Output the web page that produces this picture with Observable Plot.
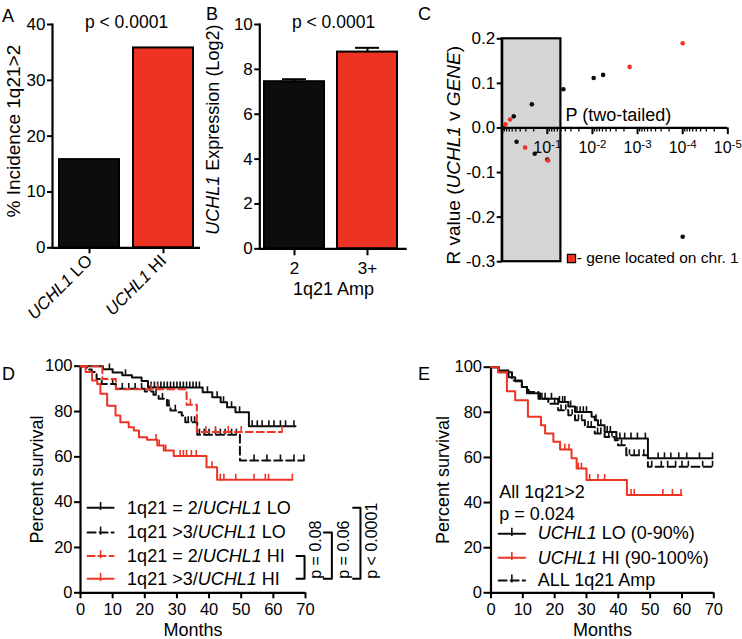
<!DOCTYPE html>
<html><head><meta charset="utf-8">
<script src="https://cdn.jsdelivr.net/npm/d3@7"></script>
<script src="https://cdn.jsdelivr.net/npm/@observablehq/plot@0.6"></script>
<style>
body{margin:0;background:#fff;}
#fig{position:relative;width:742px;height:639px;overflow:hidden;background:#fff;font-family:"Liberation Sans",Arial,Helvetica,sans-serif;}
.letter{position:absolute;font-size:18px;line-height:18px;color:#000;}
</style></head><body><div id="fig"></div>
<script>
const FONT = '"Liberation Sans", Arial, Helvetica, sans-serif';
const RED = "#ec3324";
const BLACK = "#0d0d0d";

// ---------- Panel A ----------
const groupsA = ["UCHL1 LO", "UCHL1 HI"];
const incidenceA = [15.8, 35.8];
const ticksA = [0, 10, 20, 30, 40];

// ---------- Panel B ----------
const ampB = ["2", "3+"];
const exprMeanB = [7.45, 8.77];
const exprSemB = [0.11, 0.19];
const ticksB = [0, 2, 4, 6, 8, 10];

// ---------- Panel C ----------
const pBlackC = [0.94, 0.555, 0.48, 0.22, 0.19, 0.1, 0.044, 0.0094, 0.0058, 0.0001];
const rBlackC = [0.0, 0.026, -0.031, 0.053, -0.058, -0.071, 0.087, 0.112, 0.119, -0.244];
const pRedC = [0.85, 0.67, 0.31, 0.096, 0.0015, 0.0001];
const rRedC = [0.008, 0.019, -0.044, -0.073, 0.137, 0.19];
const sigBoxC = [1, 0.05];
const yTicksC = [-0.3, -0.2, -0.1, 0, 0.1, 0.2];
const majorTicksC = [1, 0.1, 0.01, 0.001, 0.0001, 0.00001];
const majorLabelsC = ["", "10^-1", "10^-2", "10^-3", "10^-4", "10^-5"];

// ---------- Panel D ----------
const monthTicks = [0, 10, 20, 30, 40, 50, 60, 70];
const survTicks = [0, 20, 40, 60, 80, 100];
const d1Time = [0, 7, 10, 13, 16, 19, 21, 38, 41, 43.6, 45.6, 48.2, 52.4, 66.9];
const d1Surv = [100, 98.6, 97.2, 96, 95, 93.5, 90.6, 88.5, 86.3, 84.1, 81.9, 79.7, 73.5, 73.5];
const d1Cens = [9, 14, 22, 23, 24, 25, 26, 27, 28, 29, 30, 31, 32, 33, 34, 35, 36, 37, 39.5, 42.5, 44.5, 47, 49.5, 53.4, 55, 56.5, 58.6, 60.2, 62.2, 63.8, 66.4];
const d2Time = [0, 2, 3.5, 5, 6.6, 11, 20, 22.7, 24.3, 26.9, 28, 30.5, 31.5, 32.6, 36.3, 49.6, 69.5];
const d2Surv = [100, 98.5, 97.4, 94.4, 92.2, 90, 88.8, 87.4, 85.6, 82.7, 80.4, 79.7, 78.2, 75.3, 69.8, 58.4, 58.4];
const d2Cens = [10, 13, 15, 17, 19, 21.5, 23.5, 25.5, 27.5, 29.5, 33.5, 34.5, 35.5, 37, 38.5, 40, 42, 43.5, 45, 47, 48.5, 54, 58, 62.2, 66.4, 69.5];
const d3Time = [0, 6.8, 11, 33, 36.2, 62.7];
const d3Surv = [100, 94.3, 89.8, 83, 71, 71];
const d3Cens = [22, 24, 34.2, 39, 42, 46, 50, 62.7];
const d4Time = [0, 1.6, 3.6, 5.2, 6.2, 8.3, 10.9, 12.4, 15, 16.6, 18.2, 20.7, 23.9, 25.9, 29, 39.2, 42.5, 65.9];
const d4Surv = [100, 97.4, 93.7, 92.2, 87.8, 82.6, 78.2, 75.3, 73.1, 71.6, 68.7, 67.5, 65, 62.8, 60.4, 55.4, 49.9, 49.9];
const d4Cens = [23.5, 24.5, 26.5, 31, 32, 33, 34.5, 36, 40.9, 43.5, 44.6, 48.3, 54, 57.5, 58.5, 65.9];
const legendD = ["1q21 = 2/UCHL1 LO", "1q21 >3/UCHL1 LO", "1q21 = 2/UCHL1 HI", "1q21 >3/UCHL1 HI"];
const pLabelsD = ["p = 0.08", "p = 0.06", "p < 0.0001"];

// ---------- Panel E ----------
const eLoTime = [0, 2.4, 5.5, 7.6, 9.7, 11.3, 15.4, 21.1, 24.3, 26.4, 31.6, 32.6, 33.6, 35.7, 39.4, 49.3, 69.6];
const eLoSurv = [100, 98.5, 95.6, 93.8, 91.2, 88.5, 86, 84.6, 82.6, 80.1, 78, 76.5, 74.3, 71.3, 68.4, 59.6, 59.6];
const eLoCens = [17, 19, 21.5, 22.5, 23.2, 25, 27, 28, 29, 30, 33, 34.5, 36.5, 37.5, 40.5, 42, 44, 46, 48.5, 52.5, 54.5, 56.5, 59, 61.5, 65.5, 69.6];
const eHiTime = [0, 2.2, 5, 7.6, 11.6, 15.7, 17, 19.6, 21.7, 25.3, 26.9, 30, 42.7, 59.9];
const eHiSurv = [100, 97.8, 89.3, 85.3, 78, 74.3, 70.6, 66.9, 63.5, 59.6, 55.1, 50, 43.4, 43.4];
const eHiCens = [23.2, 24.5, 27.4, 28.4, 31, 33.6, 35.7, 44, 45, 54, 57, 59.7];
const eAllTime = [0, 2.4, 6.6, 9.7, 11.8, 14.9, 18, 21.1, 24.3, 26.4, 29.5, 32.6, 35.7, 38.9, 39.9, 42.5, 49.3, 69.6];
const eAllSurv = [100, 97.8, 94.1, 91.2, 89, 86, 83.8, 80.9, 78.7, 76.5, 73.5, 70.6, 69.1, 67.6, 65.4, 61, 55.9, 55.9];
const eAllCens = [16, 20, 22, 23.5, 25.5, 27.5, 28.5, 30.5, 31.5, 33.5, 34.5, 37, 38, 41, 43.5, 45, 46.5, 48, 50.5, 53.5, 55.5, 58, 60, 62, 66.5, 69.6];
const legendE = ["UCHL1 LO (0-90%)", "UCHL1 HI (90-100%)", "ALL 1q21 Amp"];

// ---------- helpers ----------
const fig = document.getElementById("fig");
const SVGNS = "http://www.w3.org/2000/svg";
function mount(svg, left, top) {
  svg.style.position = "absolute";
  svg.style.left = left + "px";
  svg.style.top = top + "px";
  svg.style.maxWidth = "none";
  fig.appendChild(svg);
}
function styleFor(size) {
  return {fontFamily: FONT, fontSize: size + "px", color: "black", background: "transparent", overflow: "visible"};
}
function italicize(svg, words) {
  const re = new RegExp("(" + words.join("|") + ")");
  svg.querySelectorAll("text").forEach(el => {
    if (el.querySelector("tspan")) return;
    const s = el.textContent;
    if (!re.test(s)) return;
    el.textContent = "";
    for (const part of s.split(re)) {
      if (!part) continue;
      const t = document.createElementNS(SVGNS, "tspan");
      t.textContent = part;
      if (words.includes(part)) t.setAttribute("font-style", "italic");
      el.appendChild(t);
    }
  });
}
function superscripts(svg) {
  svg.querySelectorAll("text").forEach(el => {
    const m = /^(\d+)\^(-?\d+)$/.exec(el.textContent);
    if (!m) return;
    el.textContent = "";
    const a = document.createElementNS(SVGNS, "tspan");
    a.textContent = m[1];
    const b = document.createElementNS(SVGNS, "tspan");
    b.textContent = m[2];
    b.setAttribute("dy", "-0.45em");
    b.setAttribute("font-size", "0.72em");
    el.append(a, b);
  });
}
function steps(times, surv) { return times.map((t, i) => ({t, s: surv[i]})); }
function survAt(times, surv, t) {
  let v = surv[0];
  for (let i = 0; i < times.length; i++) if (times[i] <= t) v = surv[i];
  return v;
}
const CENS_H = 2.4;
function kmMarks(times, surv, cens, color, dash) {
  return [
    Plot.line(steps(times, surv), {x: "t", y: "s", curve: "step-after", stroke: color, strokeWidth: 2, strokeDasharray: dash || null}),
    Plot.ruleX(cens.map(t => ({t, s: survAt(times, surv, t)})), {x: "t", y1: "s", y2: d => d.s + CENS_H, stroke: color, strokeWidth: 1.6})
  ];
}
function legendMarks(y, x1, x2, xText, label, color, dash) {
  const xm = (x1 + x2) / 2;
  return [
    Plot.line([{x: x1, y}, {x: x2, y}], {x: "x", y: "y", stroke: color, strokeWidth: 2, strokeDasharray: dash || null}),
    Plot.ruleX([{x: xm, y}], {x: "x", y1: d => d.y - 1.2, y2: d => d.y + CENS_H, stroke: color, strokeWidth: 1.6}),
    Plot.text([label], {x: xText, y, text: d => d, textAnchor: "start", fontSize: 18, lineAnchor: "middle"})
  ];
}
function yTitle(label, dx, dy, size) {
  return Plot.text([label], {text: d => d, frameAnchor: "left", rotate: -90, dx, dy, fontSize: size, textAnchor: "middle", lineAnchor: "middle"});
}

// ---------- Panel A ----------
const dataA = groupsA.map((g, i) => ({group: g, value: incidenceA[i]}));
const plotA = Plot.plot({
  width: 212, height: 320,
  marginLeft: 52, marginRight: 12, marginTop: 24, marginBottom: 72.7,
  style: styleFor(17),
  x: {domain: groupsA, paddingInner: 0.19, paddingOuter: 0.095},
  y: {domain: [0, 40]},
  color: {domain: groupsA, range: [BLACK, RED]},
  marks: [
    Plot.barY(dataA, {x: "group", y: "value", fill: "group", stroke: "black", strokeWidth: 2}),
    Plot.ruleY([0], {strokeWidth: 2.2}),
    Plot.frame({anchor: "left", strokeWidth: 2.2}),
    Plot.axisY({ticks: ticksA, tickSize: 5, tickPadding: 2, strokeWidth: 2, label: null, tickFormat: d => d}),
    Plot.axisX({tickSize: 6, tickPadding: 4, tickRotate: -45, strokeWidth: 2, label: null}),
    Plot.text(["p < 0.0001"], {text: d => d, frameAnchor: "top", dy: -2, fontSize: 17.5, lineAnchor: "middle"}),
    yTitle("% Incidence 1q21>2", -39, -5, 19)
  ]
});
mount(plotA, 0, 0);

// ---------- Panel B ----------
const dataB = ampB.map((g, i) => ({amp: g, mean: exprMeanB[i], sem: exprSemB[i]}));
const plotB = Plot.plot({
  width: 215, height: 320,
  marginLeft: 59.3, marginRight: 8.3, marginTop: 24, marginBottom: 71.7,
  style: styleFor(17),
  x: {domain: ampB, paddingInner: 0.176, paddingOuter: 0.084, align: 0.32},
  y: {domain: [0, 10]},
  color: {domain: ampB, range: [BLACK, RED]},
  marks: [
    Plot.barY(dataB, {x: "amp", y: "mean", fill: "amp", stroke: "black", strokeWidth: 2}),
    Plot.ruleX(dataB, {x: "amp", y1: "mean", y2: d => d.mean + d.sem, strokeWidth: 2}),
    Plot.tickY(dataB, {x: "amp", y: d => d.mean + d.sem, strokeWidth: 2, insetLeft: 18, insetRight: 18}),
    Plot.ruleY([0], {strokeWidth: 2.2}),
    Plot.frame({anchor: "left", strokeWidth: 2.2}),
    Plot.axisY({ticks: ticksB, tickSize: 5, tickPadding: 2, strokeWidth: 2, label: null, tickFormat: d => d}),
    Plot.axisX({tickSize: 7, tickPadding: 6, strokeWidth: 2, label: null}),
    Plot.text(["p < 0.0001"], {text: d => d, frameAnchor: "top", dy: -2, fontSize: 17.5, lineAnchor: "middle"}),
    Plot.text(["1q21 Amp"], {text: d => d, frameAnchor: "bottom", dy: 40, fontSize: 18, lineAnchor: "middle"}),
    yTitle("UCHL1 Expression (Log2)", -46.3, -7, 18)
  ]
});
mount(plotB, 200, 0);

// ---------- Panel C ----------
const blackC = pBlackC.map((p, i) => ({p, r: rBlackC[i]}));
const redC = pRedC.map((p, i) => ({p, r: rRedC[i]}));
const minorTicksC = [];
for (let e = 0; e < 5; e++) for (let k = 2; k <= 9; k++) minorTicksC.push(k * Math.pow(10, -e - 1));
const majorC = majorTicksC.map((v, i) => ({v, label: majorLabelsC[i]}));
const plotC = Plot.plot({
  width: 302, height: 290,
  marginLeft: 61.7, marginRight: 14.7, marginTop: 38.3, marginBottom: 28.8,
  style: styleFor(17),
  x: {type: "log", domain: [1, 1e-5], axis: null},
  y: {domain: [-0.3, 0.2]},
  marks: [
    Plot.rect([{x1: sigBoxC[0], x2: sigBoxC[1], y1: -0.3, y2: 0.2}], {x1: "x1", x2: "x2", y1: "y1", y2: "y2", fill: "#d5d5d5", stroke: "black", strokeWidth: 2.2}),
    Plot.ruleY([0], {strokeWidth: 2.2}),
    Plot.ruleX([1], {strokeWidth: 2.2}),
    Plot.ruleX(minorTicksC, {x: d => d, y1: 0, y2: -0.009, strokeWidth: 1.3}),
    Plot.ruleX(majorTicksC, {x: d => d, y1: 0, y2: -0.015, strokeWidth: 2}),
    Plot.text(majorC.filter(d => d.label), {x: "v", y: 0, text: "label", dy: 20, fontSize: 16, lineAnchor: "middle"}),
    Plot.axisY({ticks: yTicksC, tickSize: 5, tickPadding: 2, strokeWidth: 2, label: null, tickFormat: d => d.toFixed(1)}),
    Plot.dot(blackC, {x: "p", y: "r", r: 2.3, fill: BLACK}),
    Plot.dot(redC, {x: "p", y: "r", r: 2.3, fill: RED}),
    Plot.text(["P (two-tailed)"], {text: d => d, frameAnchor: "top-left", dx: 63.3, dy: 76.7, textAnchor: "start", lineAnchor: "middle", fontSize: 18}),
    Plot.dot([0], {frameAnchor: "top-left", dx: 69.3, dy: 219.7, symbol: "square", r: 4.6, fill: RED, stroke: "black", strokeWidth: 1.2}),
    Plot.text(["- gene located on chr. 1"], {text: d => d, frameAnchor: "top-left", dx: 74.5, dy: 219.7, textAnchor: "start", lineAnchor: "middle", fontSize: 15.5}),
    yTitle("R value (UCHL1 v GENE)", -48.7, 5, 19)
  ]
});
mount(plotC, 440, 0);

// ---------- Panel D ----------
const rowsD = [37.5, 26.6, 16.2, 6.2];
const plotD = Plot.plot({
  width: 440, height: 309,
  marginLeft: 80, marginRight: 135, marginTop: 35.7, marginBottom: 46.7,
  style: styleFor(16.5),
  x: {domain: [0, 70]},
  y: {domain: [0, 100]},
  marks: [
    Plot.ruleX([0], {strokeWidth: 2.2}),
    Plot.ruleY([0], {strokeWidth: 2.2}),
    Plot.axisX({ticks: monthTicks, tickSize: 6, tickPadding: 4, strokeWidth: 2, label: null, tickFormat: d => d}),
    Plot.axisY({ticks: survTicks, tickSize: 6, tickPadding: 2, strokeWidth: 2, label: null, tickFormat: d => d}),
    ...kmMarks(d1Time, d1Surv, d1Cens, BLACK),
    ...kmMarks(d2Time, d2Surv, d2Cens, BLACK, "8,4"),
    ...kmMarks(d3Time, d3Surv, d3Cens, RED, "7,4"),
    ...kmMarks(d4Time, d4Surv, d4Cens, RED),
    ...legendMarks(rowsD[0], 2.2, 10.3, 14.5, legendD[0], BLACK),
    ...legendMarks(rowsD[1], 2.2, 10.3, 14.5, legendD[1], BLACK, "8,4"),
    ...legendMarks(rowsD[2], 2.2, 10.3, 14.5, legendD[2], RED, "7,4"),
    ...legendMarks(rowsD[3], 2.2, 10.3, 14.5, legendD[3], RED),
    Plot.line([{x: 67.2, y: rowsD[2]}, {x: 69.7, y: rowsD[2]}, {x: 69.7, y: rowsD[3]}, {x: 67.2, y: rowsD[3]}], {x: "x", y: "y", strokeWidth: 2}),
    Plot.line([{x: 75.7, y: rowsD[1]}, {x: 78.2, y: rowsD[1]}, {x: 78.2, y: rowsD[3]}, {x: 75.7, y: rowsD[3]}], {x: "x", y: "y", strokeWidth: 2}),
    Plot.line([{x: 84.8, y: rowsD[0]}, {x: 87.1, y: rowsD[0]}, {x: 87.1, y: rowsD[3]}, {x: 84.8, y: rowsD[3]}], {x: "x", y: "y", strokeWidth: 2}),
    Plot.text([pLabelsD[0]], {x: 73.2, y: rowsD[3], text: d => d, rotate: -90, textAnchor: "start", lineAnchor: "middle", fontSize: 16}),
    Plot.text([pLabelsD[1]], {x: 81.9, y: rowsD[3], text: d => d, rotate: -90, textAnchor: "start", lineAnchor: "middle", fontSize: 16}),
    Plot.text([pLabelsD[2]], {x: 90.8, y: rowsD[3], text: d => d, rotate: -90, textAnchor: "start", lineAnchor: "middle", fontSize: 16}),
    Plot.text(["Months"], {text: d => d, frameAnchor: "bottom", dy: 37.5, fontSize: 18, lineAnchor: "middle"}),
    yTitle("Percent survival", -43, 0, 18)
  ]
});
mount(plotD, 0, 330);

// ---------- Panel E ----------
const rowsE = [26.2, 15.5, 5.5];
const plotE = Plot.plot({
  width: 302, height: 309,
  marginLeft: 50.5, marginRight: 28.7, marginTop: 36.7, marginBottom: 46.7,
  style: styleFor(16.5),
  x: {domain: [0, 70]},
  y: {domain: [0, 100]},
  marks: [
    Plot.ruleX([0], {strokeWidth: 2.2}),
    Plot.ruleY([0], {strokeWidth: 2.2}),
    Plot.axisX({ticks: monthTicks, tickSize: 6, tickPadding: 4, strokeWidth: 2, label: null, tickFormat: d => d}),
    Plot.axisY({ticks: survTicks, tickSize: 7, tickPadding: 2, strokeWidth: 2, label: null, tickFormat: d => d}),
    ...kmMarks(eAllTime, eAllSurv, eAllCens, BLACK, "8,4"),
    ...kmMarks(eLoTime, eLoSurv, eLoCens, BLACK),
    ...kmMarks(eHiTime, eHiSurv, eHiCens, RED),
    Plot.text(["All 1q21>2"], {x: 2.6, y: 44.6, text: d => d, textAnchor: "start", lineAnchor: "middle", fontSize: 18}),
    Plot.text(["p = 0.024"], {x: 2.6, y: 35, text: d => d, textAnchor: "start", lineAnchor: "middle", fontSize: 18}),
    ...legendMarks(rowsE[0], 2.4, 10.7, 14.7, legendE[0], BLACK),
    ...legendMarks(rowsE[1], 2.4, 10.7, 14.7, legendE[1], RED),
    ...legendMarks(rowsE[2], 2.4, 10.7, 14.7, legendE[2], BLACK, "8,4"),
    Plot.text(["Months"], {text: d => d, frameAnchor: "bottom", dy: 37.5, fontSize: 18, lineAnchor: "middle"}),
    yTitle("Percent survival", -48, 0, 18)
  ]
});
mount(plotE, 440, 330);

for (const svg of [plotA, plotB, plotC, plotD, plotE]) {
  italicize(svg, ["UCHL1", "GENE"]);
  superscripts(svg);
}

// panel letters
const letters = [["A", 2, 6.5], ["B", 206, 4.5], ["C", 418, 4.5], ["D", 2, 364.5], ["E", 418, 364.5]];
for (const [t, x, y] of letters) {
  const d = document.createElement("div");
  d.className = "letter";
  d.textContent = t;
  d.style.left = x + "px";
  d.style.top = y + "px";
  fig.appendChild(d);
}
</script></body></html>
